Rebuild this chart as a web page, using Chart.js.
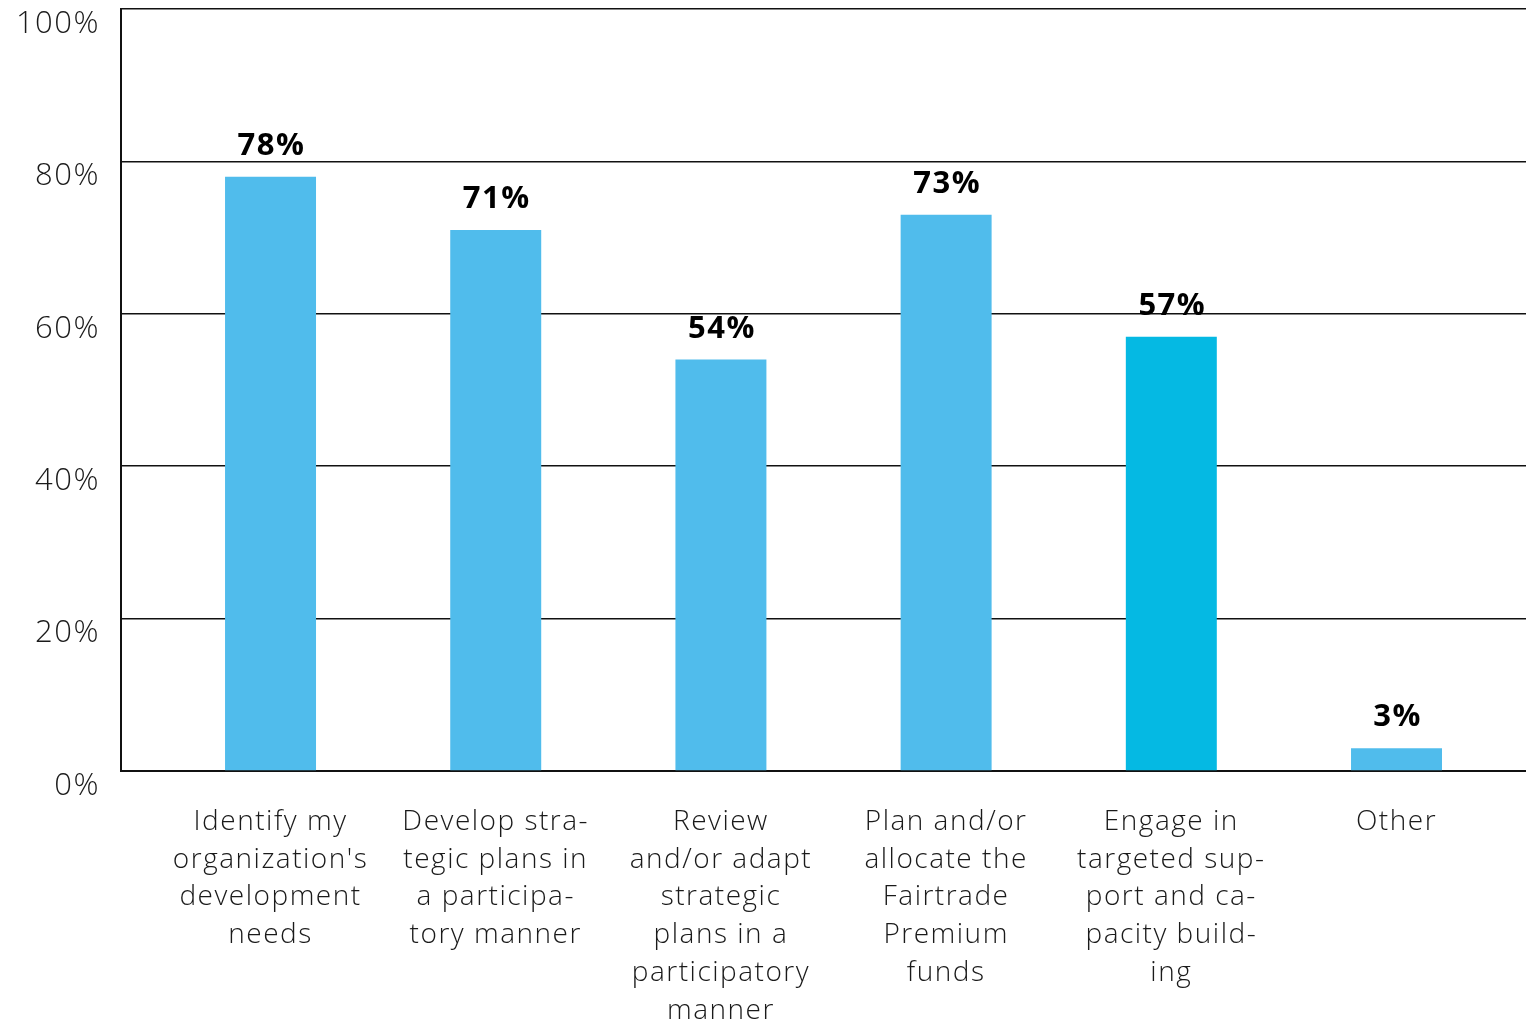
<!DOCTYPE html>
<html>
<head>
<meta charset="utf-8">
<script src="https://cdn.jsdelivr.net/npm/chart.js@4.4.0/dist/chart.umd.min.js"></script>
<style>
  html, body { margin: 0; padding: 0; background: #fff; overflow: hidden; }
  #wrap { width: 1526px; height: 1023px; }
</style>
</head>
<body>
<div id="wrap"><canvas id="bar-chart" width="1526" height="1023"></canvas></div>
<script>
// categories (already split into lines as in the picture)
const categories = [
  ['Identify my', "organization's", 'development', 'needs'],
  ['Develop stra-', 'tegic plans in', 'a participa-', 'tory manner'],
  ['Review', 'and/or adapt', 'strategic', 'plans in a', 'participatory', 'manner'],
  ['Plan and/or', 'allocate the', 'Fairtrade', 'Premium', 'funds'],
  ['Engage in', 'targeted sup-', 'port and ca-', 'pacity build-', 'ing'],
  ['Other']
]
const values = [78, 71, 54, 73, 57, 3]
const yTicks = [0, 20, 40, 60, 80, 100]

const barColor = '#50BCEC'
const barColors = values.map((v, i) => i === 4 ? '#05B9E3' : barColor)

const fontFamily = '"Open Sans", Roboto, sans-serif'

// the original font is wider, a bit of letter spacing gets closer
const spacing = {
  id: 'spacing',
  beforeInit(chart) { chart.ctx.letterSpacing = '1.5px' },
  beforeUpdate(chart) { chart.ctx.letterSpacing = '1.5px' }
}

const valueLabels = {
  id: 'valueLabels',
  afterDatasetsDraw(chart) {
    const ctx = chart.ctx
    const meta = chart.getDatasetMeta(0)
    ctx.save()
    ctx.font = 'bold 31px ' + fontFamily
    ctx.fillStyle = '#000'
    ctx.textAlign = 'center'
    ctx.textBaseline = 'alphabetic'
    meta.data.forEach((bar, i) => {
      ctx.fillText(values[i] + '%', bar.x + 1, bar.y - 22)
    })
    ctx.restore()
  }
}

const beerChart = new Chart(document.getElementById('bar-chart'), {
  type: 'bar',
  data: {
    datasets: [{
      data: values.map((v, i) => ({ x: i, y: v })),
      backgroundColor: barColors,
      borderWidth: 0,
      barPercentage: 0.404,
      categoryPercentage: 1
    }]
  },
  options: {
    responsive: false,
    animation: false,
    layout: { padding: { top: 9, right: 0, left: 0, bottom: 0 } },
    plugins: {
      legend: { display: false },
      tooltip: { enabled: false }
    },
    scales: {
      x: {
        type: 'linear',
        offset: false,
        min: -0.664,
        max: 5.575,
        afterBuildTicks: scale => {
          scale.ticks = categories.map((c, i) => ({ value: i }))
        },
        afterFit: scale => {
          scale.height = 252
          scale.paddingLeft = 0
          scale.paddingRight = 0
        },
        grid: { display: false },
        border: { display: true, color: '#111', width: 2 },
        ticks: {
          autoSkip: false,
          maxRotation: 0,
          padding: 24,
          color: '#1a1a1a',
          font: { family: fontFamily, size: 28, weight: 300, lineHeight: 1.35 },
          callback: v => categories[v]
        }
      },
      y: {
        min: 0,
        max: 100,
        afterBuildTicks: scale => {
          scale.ticks = yTicks.map(v => ({ value: v }))
        },
        afterFit: scale => {
          scale.width = 121
          scale.paddingTop = 0
          scale.paddingBottom = 0
        },
        grid: { color: '#111', lineWidth: 1.5, drawTicks: false },
        border: { display: true, color: '#111', width: 2 },
        ticks: {
          padding: 21,
          labelOffset: 15,
          color: '#1a1a1a',
          font: { family: fontFamily, size: 31, weight: 300 },
          callback: v => v + '%'
        }
      }
    }
  },
  plugins: [spacing, valueLabels]
})
</script>
</body>
</html>
